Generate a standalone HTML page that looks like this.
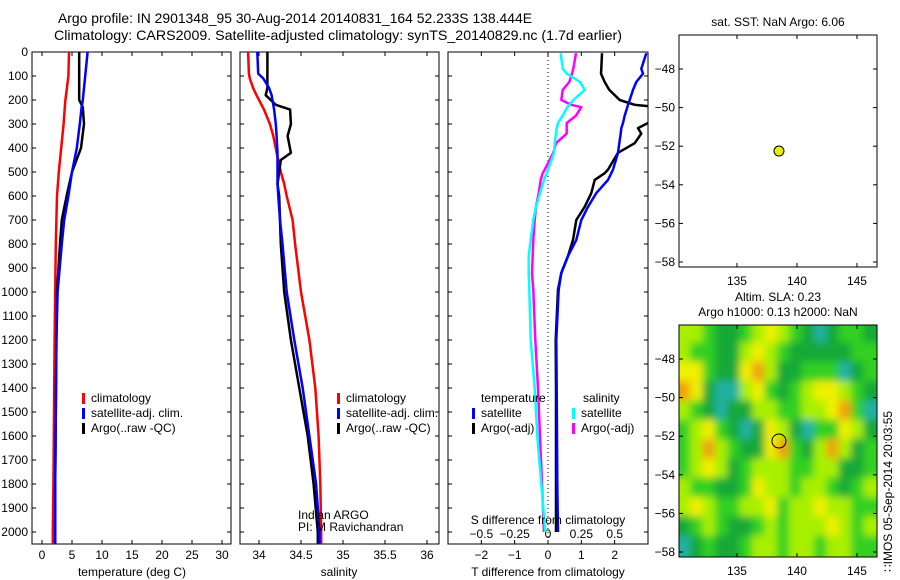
<!DOCTYPE html>
<html><head><meta charset="utf-8"><style>
html,body{margin:0;padding:0;background:#fff}
svg{display:block;font-family:"Liberation Sans",sans-serif;font-size:12px}
</style></head><body>
<svg id="c" width="900" height="580" viewBox="0 0 900 580">
<defs>
<clipPath id="cp1"><rect x="32" y="52" width="199" height="492"/></clipPath>
<clipPath id="cp2"><rect x="240" y="52" width="199" height="492"/></clipPath>
<clipPath id="cp3"><rect x="448" y="52" width="200" height="492"/></clipPath>
<clipPath id="cpm"><rect x="679" y="325" width="198" height="232"/></clipPath>
<filter id="bl" x="-10%" y="-10%" width="120%" height="120%"><feGaussianBlur stdDeviation="4"/></filter>
</defs>
<text x="58" y="23" textLength="474" lengthAdjust="spacingAndGlyphs" style="font-size:13.5px">Argo profile: IN 2901348_95 30-Aug-2014 20140831_164 52.233S 138.444E</text>
<text x="54" y="40" textLength="568" lengthAdjust="spacingAndGlyphs" style="font-size:14px">Climatology: CARS2009. Satellite-adjusted climatology: synTS_20140829.nc (1.7d earlier)</text>
<g id="g"></g>
</svg>
<script>
// ---- data ----
const tDepth = [0,100,200,230,300,400,500,600,700,800,1000,1200,1500,1800,2000,2050];
const tClim  = [4.5,4.4,3.9,3.8,3.6,3.2,2.8,2.5,2.4,2.3,2.2,2.1,2.0,1.9,1.8,1.8];
const tArgo  = [6.2,6.2,6.2,6.8,7.0,6.5,5.0,4.1,3.3,3.0,2.5,2.4,2.3,2.2,2.2,2.2];
const tSat   = [7.6,7.2,6.8,6.6,6.3,5.8,5.0,4.4,3.7,3.3,2.6,2.4,2.3,2.2,2.2,2.2];
const sDepth = [0,90,110,150,180,220,240,300,350,420,450,500,550,600,700,800,1000,1200,1400,1600,1800,2000,2050];
const sClim  = [33.87,33.88,33.89,33.93,33.97,34.03,34.06,34.13,34.17,34.21,34.23,34.26,34.3,34.33,34.4,34.43,34.5,34.6,34.67,34.71,34.73,34.74,34.74];
const sSat   = [33.98,33.99,34.05,34.12,34.15,34.17,34.18,34.2,34.21,34.22,34.22,34.22,34.22,34.23,34.25,34.28,34.33,34.42,34.52,34.6,34.68,34.72,34.72];
const sArgo  = [34.1,34.1,34.1,34.1,34.08,34.2,34.37,34.38,34.34,34.38,34.26,34.24,34.22,34.24,34.25,34.26,34.3,34.38,34.48,34.58,34.65,34.7,34.7];
const dDepth = [5,70,90,125,158,200,220,230,265,296,317,340,380,420,490,505,533,588,645,700,783,850,921,990,1200,1400,1600,1800,2000];
const dTArgo = [1.62,1.6,1.59,1.7,1.84,2.15,2.6,3.3,3.3,3.0,2.7,2.8,2.6,2.1,1.8,1.7,1.4,1.3,1.1,0.85,0.75,0.6,0.4,0.3,0.23,0.24,0.24,0.24,0.24];
const dTSat  = [2.95,2.8,2.85,2.65,2.55,2.45,2.4,2.38,2.3,2.25,2.2,2.18,2.14,2.1,1.95,1.9,1.8,1.45,1.2,1.0,0.85,0.6,0.4,0.32,0.25,0.26,0.27,0.28,0.3];
const dSArgo = [0.21,0.19,0.18,0.16,0.11,0.1,0.175,0.25,0.21,0.14,0.14,0.14,0.06,0.04,-0.025,-0.04,-0.055,-0.07,-0.09,-0.1,-0.11,-0.115,-0.12,-0.11,-0.095,-0.075,-0.06,-0.045,-0.03];
const dSSat  = [0.095,0.11,0.14,0.24,0.275,0.19,0.16,0.145,0.11,0.075,0.065,0.06,0.05,0.045,0,-0.01,-0.03,-0.06,-0.09,-0.11,-0.13,-0.145,-0.145,-0.14,-0.13,-0.1,-0.08,-0.05,-0.02];
const depthTicks = [0,100,200,300,400,500,600,700,800,900,1000,1100,1200,1300,1400,1500,1600,1700,1800,1900,2000];
const tTicks = [0,5,10,15,20,25,30];
const sTicks = [34,34.5,35,35.5,36];
const sTickLabels = ["34","34.5","35","35.5","36"];
const dTTicks = [-2,-1,0,1,2];
const dSTicks = [-0.5,-0.25,0,0.25,0.5];
const dSTickLabels = ["\u22120.5","\u22120.25","0","0.25","0.5"];
const lonTicks = [135,140,145];
const latTicks = [-48,-50,-52,-54,-56,-58];
const argoLon = 138.5, argoLat = -52.25;
const sla = [
[3,3,2,1,1,2,3,4,3,2,1,0,1,2,2,1],
[3,2,2,1,1,3,4,3,2,1,1,1,1,1,2,2],
[4,4,2,1,1,4,5,3,1,1,2,2,2,0,1,2],
[5,4,1,0,0,3,4,2,1,2,3,4,4,3,2,1],
[3,2,1,0,1,1,3,3,2,2,3,3,4,5,2,0],
[2,3,4,2,1,0,1,4,3,1,0,2,2,4,3,1],
[2,3,5,3,2,1,1,4,5,2,1,3,5,3,1,2],
[2,3,4,3,1,2,3,3,3,2,2,3,3,1,1,2],
[3,2,2,1,1,2,4,3,3,2,3,3,2,1,2,3],
[3,4,3,2,2,3,3,4,2,3,3,4,3,3,2,2],
[1,2,3,2,1,1,2,3,2,3,3,3,4,3,2,3],
[0,1,2,1,1,2,3,3,2,3,3,2,3,3,2,2]];
const slaColors = ["#20b0a0","#18a838","#30d020","#a8f000","#f0f000","#f0a010"];

// ---- scales ----
const NS="http://www.w3.org/2000/svg";
const G=document.getElementById('g');
const yD = d => 52 + d*0.24;
const x1 = v => 42 + v*6;
const x2 = v => 259 + (v-34)*84;
const x3 = v => 548 + v*33.33;
const x3s = v => 548 + v*133.33;
const lonX = v => 679 + (v-130.17)*12;
const latY1 = v => 69 + (-48-v)*19.3;
const latY2 = v => 359 + (-48-v)*19.3;
function el(tag,attrs,parent){const e=document.createElementNS(NS,tag);for(const k in attrs)e.setAttribute(k,attrs[k]);(parent||G).appendChild(e);return e;}
function txt(x,y,s,anchor,parent){const t=el('text',{x:x,y:y,'text-anchor':anchor||'middle'},parent);t.textContent=s;return t;}
function prof(depths,vals,xs,color,w,clip,name){
  const pts=depths.map((d,i)=>xs(vals[i]).toFixed(1)+','+yD(d).toFixed(1)).join(' ');
  const p=el('polyline',{points:pts,fill:'none',stroke:color,'stroke-width':w,'clip-path':'url(#'+clip+')','stroke-linejoin':'round'});
  
  
}
function frame(x,y,w,h,name){const r=el('rect',{x:x,y:y,width:w,height:h,fill:'none',stroke:'#000','stroke-width':1});
  
  }
function legendEntry(x,y,color,label){
  el('rect',{x:x,y:y-9,width:3,height:11,fill:color});
  const t=txt(x+9,y,label,'start');
  
  
}

// heatmap first (under frames)
const hm=el('g',{'clip-path':'url(#cpm)'});


const hb=el('g',{filter:'url(#bl)'},hm);
const cw=198/16,ch=232/12;
sla.forEach((row,r)=>row.forEach((v,c)=>{
  let x0=679+c*cw-cw*0.1, y0=325+r*ch-ch*0.1, w=cw*1.2, h=ch*1.2;
  if(c===0){x0-=15;w+=15;} if(c===row.length-1){w+=15;}
  if(r===0){y0-=15;h+=15;} if(r===sla.length-1){h+=15;}
  const cell=el('rect',{x:x0.toFixed(1),y:y0.toFixed(1),width:w.toFixed(1),height:h.toFixed(1),fill:slaColors[v]},hb);
  
  
}));

// panel frames + ticks
[[32,231],[240,439],[448,648]].forEach((p,pi)=>{
  frame(p[0],52,p[1]-p[0],492,'profile-panel-'+(pi+1));
  depthTicks.forEach(d=>{el('line',{x1:p[0],x2:p[0]+4,y1:yD(d),y2:yD(d),stroke:'#000'});el('line',{x1:p[1],x2:p[1]-4,y1:yD(d),y2:yD(d),stroke:'#000'});});
});
depthTicks.forEach(d=>{const t=txt(28,yD(d)+4,String(d),'end');
  
  });
tTicks.forEach(v=>{const x=x1(v);el('line',{x1:x,x2:x,y1:52,y2:56,stroke:'#000'});el('line',{x1:x,x2:x,y1:544,y2:540,stroke:'#000'});
  const t=txt(x,559,String(v));});
sTicks.forEach((v,i)=>{const x=x2(v);el('line',{x1:x,x2:x,y1:52,y2:56,stroke:'#000'});el('line',{x1:x,x2:x,y1:544,y2:540,stroke:'#000'});
  const t=txt(x,559,sTickLabels[i]);});
dTTicks.forEach(v=>{const x=x3(v);el('line',{x1:x,x2:x,y1:52,y2:56,stroke:'#000'});el('line',{x1:x,x2:x,y1:544,y2:540,stroke:'#000'});
  const t=txt(x,559,v<0?'\u2212'+(-v):String(v));});
dSTicks.forEach((v,i)=>{const t=txt(x3s(v),538,dSTickLabels[i]);});
el('line',{x1:548,x2:548,y1:52,y2:544,stroke:'#000','stroke-dasharray':'1,3'});

// profiles
prof(tDepth,tClim,x1,'#f00',2.5,'cp1','temp-climatology-line');
prof(tDepth,tArgo,x1,'#000',2.5,'cp1','temp-argo-line');
prof(tDepth,tSat,x1,'#00f',2.5,'cp1','temp-satellite-line');
prof(sDepth,sClim,x2,'#f00',2.5,'cp2','sal-climatology-line');
prof(sDepth,sArgo,x2,'#000',2.5,'cp2','sal-argo-line');
prof(sDepth,sSat,x2,'#00f',2.5,'cp2','sal-satellite-line');
prof(dDepth,dTArgo,x3,'#000',2.5,'cp3','tdiff-argo-line');
prof(dDepth,dTSat,x3,'#00f',2.5,'cp3','tdiff-satellite-line');
prof(dDepth,dSArgo,x3s,'#f0f',2.5,'cp3','sdiff-argo-line');
prof(dDepth,dSSat,x3s,'#0ff',2.5,'cp3','sdiff-satellite-line');

// legends
legendEntry(82,402,'#f00','climatology');legendEntry(82,417,'#00f','satellite-adj. clim.');legendEntry(82,432,'#000','Argo(..raw -QC)');
legendEntry(337,402,'#f00','climatology');legendEntry(337,417,'#00f','satellite-adj. clim.');legendEntry(337,432,'#000','Argo(..raw -QC)');
txt(481,402,'temperature','start');txt(583,402,'salinity','start');
legendEntry(472,417,'#00f','satellite');legendEntry(472,432,'#000','Argo(-adj)');
legendEntry(572,417,'#0ff','satellite');legendEntry(572,432,'#f0f','Argo(-adj)');
txt(298,519,'Indian ARGO','start');txt(298,531,'PI: M Ravichandran','start');
txt(548,524,'S difference from climatology');
txt(132,576,'temperature (deg C)');txt(339,576,'salinity');txt(548,576,'T difference from climatology');

// maps
el('rect',{x:660,y:557,width:240,height:30,fill:'#fff'});
[[35,latY1,'sst-map'],[325,latY2,'sla-map']].forEach(m=>{
  const top=m[0],ly=m[1];
  frame(679,top,198,232,m[2]);
  lonTicks.forEach(v=>{const x=lonX(v);el('line',{x1:x,x2:x,y1:top,y2:top+4,stroke:'#000'});el('line',{x1:x,x2:x,y1:top+232,y2:top+228,stroke:'#000'});
    const t=txt(x,top+250,String(v));});
  latTicks.forEach(v=>{const y=ly(v);el('line',{x1:679,x2:683,y1:y,y2:y,stroke:'#000'});el('line',{x1:877,x2:873,y1:y,y2:y,stroke:'#000'});
    const t=txt(675,y+4,'\u2212'+(-v),'end');});
});
const d1=el('circle',{cx:lonX(argoLon),cy:latY1(argoLat),r:5,fill:'#e8f000',stroke:'#000'});


const d2=el('circle',{cx:lonX(argoLon),cy:latY2(argoLat),r:7,fill:'none',stroke:'#000'});


txt(778,26,'sat. SST: NaN Argo: 6.06');
txt(778,301,'Altim. SLA: 0.23');txt(778,316,'Argo h1000: 0.13 h2000: NaN');
const rt=txt(0,0,'\u2237IMOS 05-Sep-2014 20:03:55','start');
rt.setAttribute('transform','translate(892,572) rotate(-90)');


</script>
</body></html>
